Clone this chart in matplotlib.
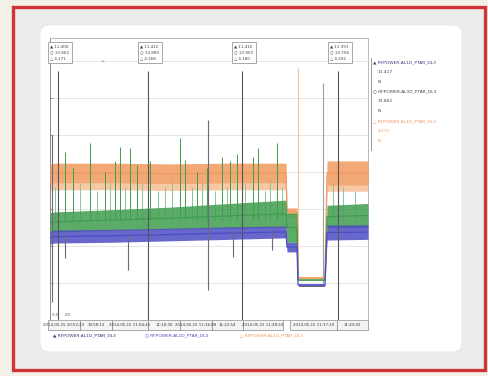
import numpy as np
import matplotlib
matplotlib.use('Agg')
import matplotlib.pyplot as plt
from matplotlib.patches import Rectangle, FancyBboxPatch

# envelope knots (x in minutes from start)
env_x = [0, 4, 60, 120, 180, 236, 237, 247, 248, 275, 277, 318]
orange_hi = [4.20, 4.24, 4.24, 4.22, 4.24, 4.24, 3.03, 3.03, 1.16, 1.16, 4.30, 4.30]
orange_lo = [3.66, 3.70, 3.70, 3.68, 3.70, 3.70, 2.84, 2.84, 1.12, 1.12, 3.64, 3.64]
orange_fringe = [3.50, 3.52, 3.52, 3.50, 3.52, 3.52, 2.80, 2.80, 1.12, 1.12, 3.48, 3.48]
green_hi = [2.90, 2.92, 2.98, 3.05, 3.15, 3.24, 2.89, 2.89, 1.10, 1.10, 3.10, 3.15]
green_lo = [2.35, 2.38, 2.42, 2.45, 2.48, 2.50, 2.10, 2.10, 1.07, 1.07, 2.49, 2.50]
blue_hi = [2.40, 2.43, 2.45, 2.48, 2.52, 2.54, 2.10, 2.10, 0.97, 0.97, 2.57, 2.57]
blue_lo = [2.05, 2.08, 2.10, 2.14, 2.18, 2.22, 1.84, 1.84, 0.93, 0.93, 2.16, 2.18]

# upward spikes of the green trace
green_spike_x = [15, 23, 40, 55, 65, 70, 80, 87, 98, 100, 130, 135, 147, 157, 172, 180, 187, 203, 208, 227]
green_spike_top = [4.54, 4.10, 4.78, 4.00, 4.30, 4.68, 4.65, 4.20, 4.50, 4.30, 4.92, 4.32, 4.00, 4.10, 4.40, 4.30, 4.50, 4.40, 4.65, 4.78]
small_spike_x = [5, 30, 47, 60, 75, 92, 108, 115, 122, 142, 152, 165, 177, 195, 215, 220, 232, 283, 293, 305]
small_spike_top = [3.6, 3.7, 3.5, 3.8, 3.6, 3.7, 3.5, 3.6, 3.8, 3.6, 3.7, 3.5, 3.6, 3.7, 3.5, 3.8, 3.6, 3.7, 3.6, 3.5]
# downward spikes
down_x = [2, 15, 78, 158, 183, 222]
down_top = [5.0, 2.3, 2.3, 5.4, 2.4, 2.4]
down_bot = [0.5, 1.68, 1.35, 0.81, 1.70, 1.90]
# transitions into / out of the gap
gap_x = [248, 273]
gap_top = [6.8, 6.4]

cursor_x = [8, 98, 192, 288]
cursor_a = ["11.400", "11.412", "11.415", "11.391"]
cursor_b = ["13.862", "13.880", "13.903", "13.756"]
cursor_c = ["4.171", "4.168", "4.180", "4.202"]

time_labels = ["2014-05-15 10:52:23", "10:58:12", "2014-05-15 11:04:41", "11:10:30",
               "2014-05-15 11:16:08", "11:22:54", "2014-05-15 11:28:33", "2014-05-15 11:37:19", "11:43:02"]
series_names = ["RFPOWER:AL1D_PTAR_DL3", "RFPOWER:AL1D_PTAR_DL3", "RFPOWER:AL1D_PTAR_DL3"]
series_vals = ["11.417", "13.862", "4.171"]

c_orange = '#f29a5e'
c_green = '#3f9d4e'
c_blue = '#4e4cc4'

fig = plt.figure(figsize=(4.88, 3.76), dpi=100)
fig.patch.set_facecolor('#f3f0e8')

# frame in pixel coordinates
bg = fig.add_axes([0, 0, 1, 1])
bg.set_xlim(0, 488)
bg.set_ylim(376, 0)
bg.axis('off')
bg.add_patch(Rectangle((13, 7), 472, 363, fc='#eaedeb', ec='#cf3535', lw=2.4))
bg.add_patch(FancyBboxPatch((40, 25), 422, 327, boxstyle='round,pad=0,rounding_size=9',
                            fc='white', ec='#e4e6e4', lw=0.6))

ax = fig.add_axes([50 / 488, (376 - 320) / 376, 318 / 488, 282 / 376])
ax.set_xlim(0, 318)
ax.set_ylim(0, 282 / 37)
for s in ax.spines.values():
    s.set_color('#b0b0b0')
    s.set_linewidth(0.6)
ax.spines['left'].set_color('#777777')
ax.set_xticks([])
ax.set_yticks(range(8))
ax.set_yticklabels([])
ax.tick_params(axis='y', length=2, width=0.5, color='#777777', direction='in')
ax.grid(axis='y', color='#e2e2e2', lw=0.6)
ax.set_axisbelow(True)

ax.fill_between(env_x, orange_fringe, orange_lo, color='#f8c8a4', lw=0, zorder=2)
ax.vlines(small_spike_x, 2.7, small_spike_top, color='#8cc596', lw=0.7, zorder=2)
for hi, lo, col in [(orange_hi, orange_lo, c_orange), (green_hi, green_lo, c_green), (blue_hi, blue_lo, c_blue)]:
    ax.fill_between(env_x, lo, hi, color=col, alpha=0.85, lw=0, zorder=3)
    ax.plot(env_x, [(a + b) / 2 for a, b in zip(hi, lo)], color=col, lw=0.9, zorder=3)

ax.vlines(green_spike_x, 2.7, green_spike_top, color=c_green, lw=0.7, zorder=4)
ax.vlines(down_x, down_bot, down_top, color='#6a6a7a', lw=0.8, zorder=4)
ax.vlines(gap_x[0], 1.14, gap_top[0], color='#f6c29c', lw=0.8, zorder=2)
ax.vlines(gap_x[1], 1.0, gap_top[1], color='#a0a0a0', lw=0.8, zorder=2)
ax.plot([249, 274], [0.93, 0.93], color='#666666', lw=0.7, zorder=4)

# cursors
for cx, a, b, c in zip(cursor_x, cursor_a, cursor_b, cursor_c):
    ax.vlines(cx, 0, 6.72, color='#555555', lw=0.8, zorder=5)
    ax.text(cx - 8, 7.45, '▲ ' + a + '\n○ ' + b + '\n△ ' + c, fontsize=3, va='top', ha='left',
            linespacing=1.7, color='#444444', zorder=6,
            bbox=dict(boxstyle='square,pad=0.6', fc='white', ec='#999999', lw=0.6))
ax.text(50, 6.95, '×', fontsize=3.5, color='#999999')
ax.text(2, 0.12, '0.0     20', fontsize=3, color='#555555')

# time strip below the plot
edges = [48, 80, 112, 148, 180, 212, 243, 283, 337, 368]
for i, lab in enumerate(time_labels):
    x0, x1 = edges[i], edges[i + 1]
    if i == 7:
        x0 = 290
    bg.add_patch(Rectangle((x0, 320), x1 - x0, 10, fc='#f4f4f4', ec='#888888', lw=0.5))
    bg.text((x0 + x1) / 2, 325.5, lab, fontsize=2.8, ha='center', va='center', color='#333333')

# bottom legend
for lx, name, col, mk in zip([53, 145, 240], series_names, ['#2e3370', c_blue, c_orange], ['▲', '○', '△']):
    bg.text(lx, 335, mk + ' ' + name, fontsize=3.2, va='center', color=col)

# right legend
bg.plot([371, 371], [58, 150], color='#888888', lw=0.6)
for i, (name, val, col, mk) in enumerate(zip(series_names, series_vals,
                                             ['#3a3d80', '#444444', c_orange], ['▲', '○', '△'])):
    y0 = 62 + i * 29.5
    bg.text(373, y0, mk + ' ' + name, fontsize=3.2, va='center', color=col)
    bg.text(378, y0 + 10, val, fontsize=3.2, va='center', color=col)
    bg.text(378, y0 + 20, 'N', fontsize=3.2, va='center', color=col)

fig.savefig('out.png', dpi=100, facecolor=fig.get_facecolor())
